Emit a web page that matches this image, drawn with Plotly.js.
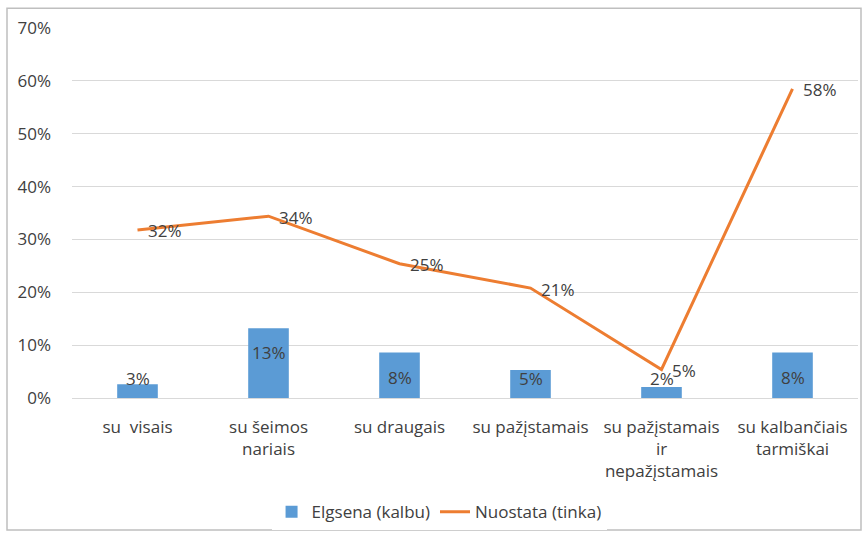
<!DOCTYPE html>
<html><head><meta charset="utf-8">
<script src="https://cdn.plot.ly/plotly-3.0.1.min.js"></script>
<style>body{margin:0;background:#fff}#c{width:865px;height:537px}</style>
</head><body><div id="c"></div>
<script>
const categories = ["su\u00a0 visais", "su šeimos<br>nariais", "su draugais", "su pažįstamais", "su pažįstamais<br>ir<br>nepažįstamais", "su kalbančiais<br>tarmiškai"];
const elgsena = [0.026, 0.132, 0.086, 0.053, 0.021, 0.086];
const elgsenaText = ["3%", "13%", "8%", "5%", "2%", "8%"];
const nuostata = [0.318, 0.344, 0.254, 0.208, 0.054, 0.585];
const nuostataText = ["32%", "34%", "25%", "21%", "5%", "58%"];
const seriesNames = ["Elgsena (kalbu)", "Nuostata (tinka)"];

const W = 865, H = 537, mL = 72, mR = 7, mT = 28, mB = 136;
const plotH = H - mT - mB, plotW = W - mL - mR;
const yMax = 0.7;
const font = "'Open Sans', 'Noto Sans', sans-serif";
const txtColor = "#404040";
const fs = 17;

const barLabels = elgsena.map((v, i) => {
  const px = v / yMax * plotH;
  const small = px < 32;
  return {
    x: categories[i], y: small ? 0 : v, xref: "x", yref: "y",
    text: elgsenaText[i], showarrow: false,
    yanchor: small ? "bottom" : "top", yshift: small ? 6 : -11,
    font: {family: font, size: fs, color: txtColor}
  };
});
const lineLabels = nuostata.map((v, i) => ({
  x: categories[i], y: v, xref: "x", yref: "y",
  text: nuostataText[i], showarrow: false,
  xanchor: "left", yanchor: "middle", xshift: 8, yshift: -1,
  font: {family: font, size: fs, color: txtColor}
}));

const traces = [
  {type: "bar", x: categories, y: elgsena, name: seriesNames[0],
   marker: {color: "#5B9BD5"}, hoverinfo: "none"},
  {type: "scatter", mode: "lines", x: categories, y: nuostata, name: seriesNames[1],
   line: {color: "#ED7D31", width: 3}, cliponaxis: false, hoverinfo: "none"}
];

const layout = {
  width: W, height: H,
  margin: {l: mL, r: mR, t: mT, b: mB},
  paper_bgcolor: "#fff", plot_bgcolor: "#fff",
  font: {family: font, size: fs, color: txtColor},
  bargap: 0.69,
  showlegend: true,
  legend: {orientation: "h", x: 0.467, xanchor: "center", y: -(516 - (H - mB)) / plotH, yanchor: "middle",
           font: {family: font, size: fs, color: txtColor}, itemwidth: 30},
  xaxis: {type: "category", showgrid: false, zeroline: false, showline: false, ticks: "",
          tickfont: {family: font, size: fs, color: txtColor}, ticklabelstandoff: 17},
  yaxis: {range: [0, yMax], dtick: 0.1, tickformat: ".0%", showgrid: true, gridcolor: "#d9d9d9", gridwidth: 1,
          zeroline: true, zerolinecolor: "#d9d9d9", zerolinewidth: 1, showline: false, ticks: "",
          tickfont: {family: font, size: fs, color: txtColor}, ticklabelstandoff: 20},
  annotations: barLabels.concat(lineLabels),
  shapes: [{type: "rect", xref: "paper", yref: "paper",
            x0: -(mL - 7) / plotW, x1: 1 + (mR - 4) / plotW,
            y0: -(mB - 3) / plotH, y1: 1 + (mT - 8) / plotH,
            line: {color: "#bfbfbf", width: 1.5}, layer: "below"}]
};

Plotly.newPlot("c", traces, layout, {displayModeBar: false, staticPlot: true});
</script></body></html>
